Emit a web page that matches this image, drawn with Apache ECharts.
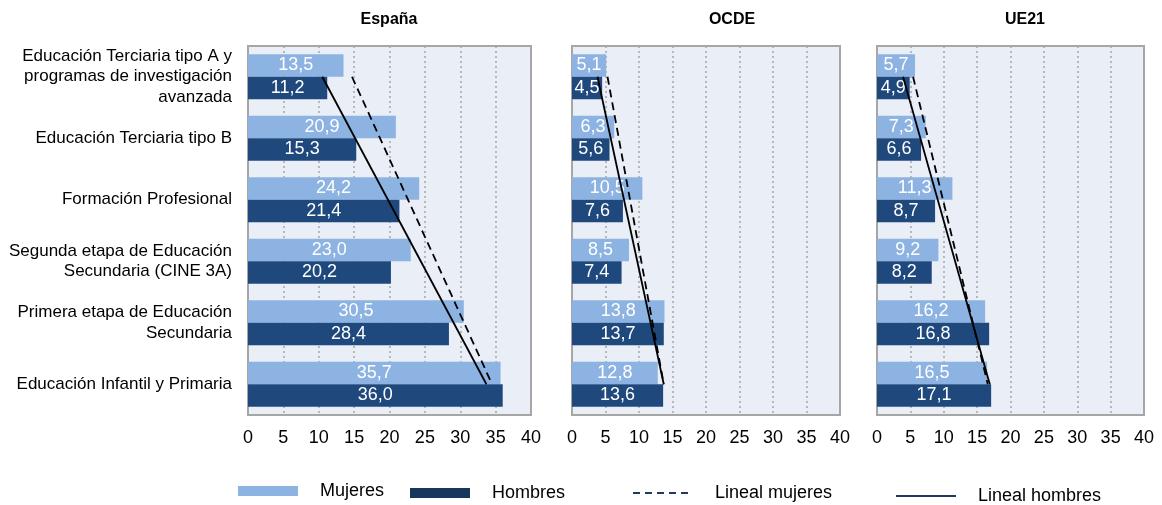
<!DOCTYPE html>
<html>
<head>
<meta charset="utf-8">
<script src="https://cdn.jsdelivr.net/npm/echarts@6/dist/echarts.min.js"></script>
<style>html,body{margin:0;padding:0;background:#fff}#c{width:1162px;height:505px}</style>
</head>
<body>
<div id="c"></div>
<script>
const categories = [
  'Educación Terciaria tipo A y\nprogramas de investigación\navanzada',
  'Educación Terciaria tipo B',
  'Formación Profesional',
  'Segunda etapa de Educación\nSecundaria (CINE 3A)',
  'Primera etapa de Educación\nSecundaria',
  'Educación Infantil y Primaria'
];
const panels = ['España', 'OCDE', 'UE21'];
const xTicks = [0, 5, 10, 15, 20, 25, 30, 35, 40];

const mujeresEspana = [13.5, 20.9, 24.2, 23.0, 30.5, 35.7];
const hombresEspana = [11.2, 15.3, 21.4, 20.2, 28.4, 36.0];
const mujeresOCDE   = [5.1, 6.3, 10.5, 8.5, 13.8, 12.8];
const hombresOCDE   = [4.5, 5.6, 7.6, 7.4, 13.7, 13.6];
const mujeresUE21   = [5.7, 7.3, 11.3, 9.2, 16.2, 16.5];
const hombresUE21   = [4.9, 6.6, 8.7, 8.2, 16.8, 17.1];

// trend line endpoints (first and last category)
const linealMujeresEspana = [14.7, 34.5];
const linealHombresEspana = [10.5, 33.7];
const linealMujeresOCDE   = [5.3, 13.7];
const linealHombresOCDE   = [3.8, 13.7];
const linealMujeresUE21   = [5.4, 16.6];
const linealHombresUE21   = [3.9, 16.9];

const mujeres = [mujeresEspana, mujeresOCDE, mujeresUE21];
const hombres = [hombresEspana, hombresOCDE, hombresUE21];
const linealM = [linealMujeresEspana, linealMujeresOCDE, linealMujeresUE21];
const linealH = [linealHombresEspana, linealHombresOCDE, linealHombresUE21];

const FONT = "'Liberation Sans', Arial, sans-serif";
const LIGHT = '#8db3e2';
const DARK = '#1f497d';

const gridPos = [
  {left: 248, width: 283},
  {left: 572, width: 268},
  {left: 877, width: 267}
];
const titleX = [384, 727, 1020];

const fmt = p => p.value.toFixed(1).replace('.', ',');

const grids = [], xAxes = [], yAxes = [], series = [], titles = [];
for (let i = 0; i < 3; i++) {
  grids.push({
    left: gridPos[i].left, width: gridPos[i].width, top: 46, height: 369,
    show: true, backgroundColor: '#eaeef6', borderColor: '#a6a6a6', borderWidth: 2,
    containLabel: false
  });
  xAxes.push({
    type: 'value', gridIndex: i, min: xTicks[0], max: xTicks[xTicks.length - 1], interval: 5,
    axisLine: {show: false}, axisTick: {show: false},
    axisLabel: {color: '#000', fontSize: 18, fontFamily: FONT, margin: 14},
    splitLine: {show: true, lineStyle: {color: '#a6a6a6', type: [2, 3], width: 1.5}}
  });
  yAxes.push({
    type: 'category', gridIndex: i, data: categories, inverse: true,
    axisLine: {show: false}, axisTick: {show: false},
    axisLabel: i === 0 ? {color: '#000', fontSize: 17, fontFamily: FONT, lineHeight: 20.5, margin: 16, align: 'right'} : {show: false}
  });
  titles.push({
    text: panels[i], left: titleX[i], top: 7, textAlign: 'center',
    textStyle: {fontFamily: FONT, fontSize: 16, fontWeight: 'bold', color: '#000'}
  });
  const lbl = {show: true, position: 'inside', color: '#fff', fontSize: 18, fontFamily: FONT, formatter: fmt};
  series.push({
    name: 'Mujeres', type: 'bar', xAxisIndex: i, yAxisIndex: i, data: mujeres[i],
    barWidth: 22.5, barGap: '0%', itemStyle: {color: LIGHT}, label: lbl, z: 2
  });
  series.push({
    name: 'Hombres', type: 'bar', xAxisIndex: i, yAxisIndex: i, data: hombres[i],
    barWidth: 22.5, barGap: '0%', itemStyle: {color: DARK}, label: lbl, z: 2
  });
  series.push({
    name: 'Lineal mujeres', type: 'line', xAxisIndex: i, yAxisIndex: i,
    data: [[linealM[i][0], 0], [linealM[i][1], categories.length - 1]],
    symbol: 'none', lineStyle: {color: '#000', width: 1.8, type: [8, 5]}, itemStyle: {color: '#000'}, z: 5, silent: true
  });
  series.push({
    name: 'Lineal hombres', type: 'line', xAxisIndex: i, yAxisIndex: i,
    data: [[linealH[i][0], 0], [linealH[i][1], categories.length - 1]],
    symbol: 'none', lineStyle: {color: '#000', width: 1.8, type: 'solid'}, itemStyle: {color: '#000'}, z: 5, silent: true
  });
}

const legendBase = {
  itemWidth: 60, itemHeight: 10, selectedMode: false,
  textStyle: {fontFamily: FONT, fontSize: 18, color: '#000', padding: [0, 0, 0, 17]}
};
const legends = [
  Object.assign({}, legendBase, {data: [{name: 'Mujeres', icon: 'rect'}], left: 233, top: 477}),
  Object.assign({}, legendBase, {data: [{name: 'Hombres', icon: 'rect', itemStyle: {color: '#17375e'}}], left: 405, top: 479}),
  Object.assign({}, legendBase, {data: [{name: 'Lineal mujeres', itemStyle: {opacity: 0},
    lineStyle: {color: '#1f3864', width: 2, type: [7, 5]}}], left: 627, top: 479}),
  Object.assign({}, legendBase, {data: [{name: 'Lineal hombres', itemStyle: {opacity: 0},
    lineStyle: {color: '#1f3864', width: 2, type: 'solid'}}], left: 890, top: 482})
];

const chart = echarts.init(document.getElementById('c'), null, {renderer: 'canvas'});
chart.setOption({
  animation: false,
  title: titles,
  grid: grids,
  xAxis: xAxes,
  yAxis: yAxes,
  legend: legends,
  series: series
});
</script>
</body>
</html>
